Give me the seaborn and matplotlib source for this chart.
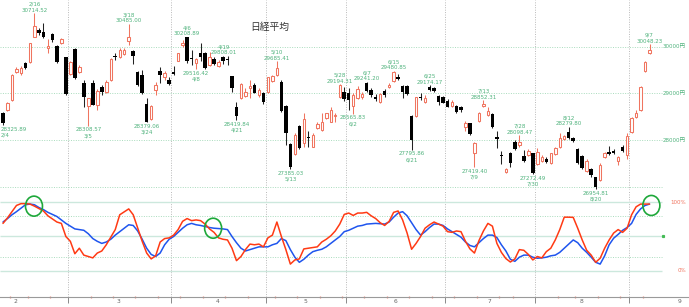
import numpy as np
import pandas as pd
import matplotlib
matplotlib.use("Agg")
import matplotlib.pyplot as plt
import seaborn as sns
from matplotlib import font_manager as fm
from matplotlib.patches import Ellipse
from matplotlib.transforms import blended_transform_factory

# ---------------- data ----------------
dates = ["2/4","2/5","2/8","2/9","2/10","2/12","2/15","2/16","2/17","2/18","2/19","2/22","2/24","2/25","2/26",
         "3/1","3/2","3/3","3/4","3/5","3/8","3/9","3/10","3/11","3/12","3/15","3/16","3/17","3/18","3/19",
         "3/22","3/23","3/24","3/25","3/26","3/29","3/30","3/31",
         "4/1","4/2","4/5","4/6","4/7","4/8","4/9","4/12","4/13","4/14","4/15","4/16","4/19","4/20","4/21",
         "4/22","4/23","4/26","4/27","4/28","4/30",
         "5/6","5/7","5/10","5/11","5/12","5/13","5/14","5/17","5/18","5/19","5/20","5/21","5/24","5/25",
         "5/26","5/27","5/28","5/31",
         "6/1","6/2","6/3","6/4","6/7","6/8","6/9","6/10","6/11","6/14","6/15","6/16","6/17","6/18","6/21",
         "6/22","6/23","6/24","6/25","6/28","6/29","6/30",
         "7/1","7/2","7/5","7/6","7/7","7/8","7/9","7/12","7/13","7/14","7/15","7/16","7/19","7/20","7/21",
         "7/26","7/27","7/28","7/29","7/30",
         "8/2","8/3","8/4","8/5","8/6","8/10","8/11","8/12","8/13","8/16","8/17","8/18","8/19","8/20","8/23",
         "8/24","8/25","8/26","8/27","8/30","8/31",
         "9/1","9/2","9/3","9/6","9/7"]

opens = [28572, 28643, 28857, 29450, 29429, 29643, 29664, 30214, 30357, 30307, 29964, 30264, 30014, 30071, 29772,
         29414, 29943, 29464, 29214, 28729, 29229, 28750, 29129, 29036, 29286, 29800, 29771, 29843, 30129, 29914,
         29464, 29393, 28772, 28443, 29071, 29479, 29343, 29286,
         29464, 29700, 30029, 30200, 29757, 29643, 29871, 29871, 29607, 29729, 29586, 29771, 29735, 29372, 28700,
         28893, 28950, 29107, 29179, 28964, 29014,
         29036, 29271, 29393, 29250, 28729, 27914, 27700, 28300, 27943, 28071, 27857, 28250, 28215, 28465,
         28393, 28515, 28915, 29036,
         29000, 28729, 28893, 28914, 29230, 29071, 28929, 28822, 29057, 29129, 29271, 29343, 29157, 29157, 28515,
         28515, 28914, 28822, 29143, 29121, 28943, 28914,
         28843, 28729, 28729, 28700, 28272, 28357, 27714, 28415, 28729, 28536, 28557, 28057, 27672, 27322, 27729,
         27965, 27893, 27657, 27679, 27715,
         27486, 27557, 27586, 27507, 27700, 27857, 28014, 28179, 28036, 27800, 27657, 27343, 27372, 27200, 27143,
         27629, 27750, 27772, 27557, 27850, 27679,
         28179, 28500, 28643, 29486, 29871]

highs = [28590, 28822, 29414, 29572, 29586, 29679, 30086, 30714.52, 30393, 30514, 30157, 30286, 30036, 30179, 29786,
         29700, 29964, 29607, 29286, 28900, 29286, 29086, 29179, 29286, 29750, 29857, 29964, 29979, 30485.00, 29929,
         29486, 29500, 28893, 28750, 29250, 29571, 29486, 29357,
         29586, 29871, 30143, 30208.89, 29929, 29750, 30071, 29893, 29893, 29771, 29714, 29800, 29808.01, 29380, 28822,
         29214, 29107, 29286, 29214, 29107, 29036,
         29357, 29393, 29685.41, 29286, 28750, 27929, 28143, 28322, 28572, 28193, 28143, 28393, 28572, 28586,
         28700, 28586, 29194.31, 29143,
         29107, 29000, 29157, 29036, 29241.20, 29107, 28986, 29000, 29086, 29214, 29480.85, 29414, 29179, 29179, 28536,
         28929, 29014, 28964, 29174.17, 29143, 28964, 28943,
         28872, 28857, 28750, 28729, 28415, 28372, 27965, 28607, 28852.31, 28700, 28586, 28200, 27765, 27393, 27750,
         28000, 28098.47, 27786, 27800, 27729,
         27822, 27679, 27629, 27729, 27857, 28143, 28107, 28279.80, 28071, 27822, 27679, 27586, 27393, 27214, 27500,
         27750, 27871, 27800, 27657, 27886, 28157,
         28486, 28643, 29157, 29700, 30048.23]

lows = [28325.89, 28629, 28843, 29429, 29393, 29522, 29657, 30200, 30250, 30179, 29857, 30107, 29660, 30057, 28960,
        29400, 29310, 29429, 28714, 28308.57, 28740, 28643, 28964, 29014, 29271, 29714, 29750, 29821, 30036, 29629,
        29157, 28990, 28379.06, 28429, 28964, 29214, 29286, 29179,
        29393, 29693, 29986, 29650, 29607, 29516.42, 29700, 29525, 29586, 29607, 29571, 29629, 29607, 29036, 28419.84,
        28872, 28914, 28893, 29000, 28929, 28772,
        29014, 29250, 29372, 28607, 27893, 27385.03, 27679, 27800, 27857, 27857, 27843, 28229, 28200, 28450,
        28379, 28393, 28893, 28843,
        28643, 28565.83, 28872, 28872, 29036, 28929, 28843, 28800, 28929, 29107, 29250, 29286, 28893, 28964, 27795.86,
        28500, 28857, 28800, 29057, 29036, 28750, 28786,
        28700, 28715, 28586, 28607, 28200, 28107, 27419.40, 28393, 28700, 28515, 28250, 27822, 27486, 27286, 27429,
        27786, 27857, 27536, 27657, 27272.49,
        27464, 27536, 27500, 27493, 27679, 27822, 28000, 28014, 27964, 27486, 27371, 27321, 27214, 26954.81, 27129,
        27614, 27679, 27700, 27471, 27750, 27586,
        28157, 28465, 28629, 29465, 29843]

closes = [28357, 28786, 29393, 29522, 29550, 29536, 30071, 30443, 30286, 30214, 30021, 30143, 29679, 30157, 28979,
          29679, 29321, 29572, 28929, 28893, 28750, 29057, 29036, 29250, 29729, 29771, 29929, 29929, 30200, 29800,
          29179, 29000, 28393, 28729, 29179, 29393, 29429, 29200,
          29414, 29857, 30086, 29700, 29729, 29729, 29771, 29536, 29771, 29629, 29679, 29700, 29715, 29107, 28515,
          29200, 29036, 29157, 29014, 29071, 28822,
          29343, 29372, 29536, 28629, 28143, 27429, 28107, 27822, 28443, 28050, 28107, 28343, 28393, 28572,
          28643, 28536, 29179, 28872,
          28857, 28964, 29086, 28986, 29057, 28964, 28872, 28979, 28964, 29179, 29464, 29300, 29036, 28986, 28000,
          28914, 28893, 28907, 29071, 29057, 28822, 28800,
          28715, 28822, 28607, 28643, 28372, 28129, 27943, 28586, 28772, 28629, 28272, 28014, 27657, 27372, 27515,
          27800, 27965, 27557, 27772, 27293,
          27750, 27629, 27536, 27715, 27822, 28036, 28086, 28036, 27986, 27500, 27393, 27557, 27250, 27000, 27465,
          27715, 27700, 27729, 27629, 27772, 28086,
          28465, 28572, 29143, 29679, 29929]

hi_dates = ["2/16", "3/18", "4/6", "4/19", "5/10", "5/28", "6/7", "6/15", "6/25", "7/13", "7/28", "8/12", "9/7"]
hi_vals = [30714.52, 30485.00, 30208.89, 29808.01, 29685.41, 29194.31, 29241.20, 29480.85, 29174.17,
           28852.31, 28098.47, 28279.80, 30048.23]
lo_dates = ["2/4", "3/5", "3/24", "4/8", "4/21", "5/13", "6/2", "6/21", "7/9", "7/30", "8/20"]
lo_vals = [28325.89, 28308.57, 28379.06, 29516.42, 28419.84, 27385.03, 28565.83, 27795.86, 27419.40,
           27272.49, 26954.81]

# stochastics (%K red, %D blue), by trading-day index
k_day = [0, 1, 3, 4, 5, 6, 7, 9, 10, 12, 13, 14, 15, 16, 17, 18, 20, 21, 22, 23, 25, 26, 28, 29] + list(range(30, 145))
k_val = [69, 77, 95, 97.6, 97.6, 97, 94, 87, 80, 71, 69, 50, 43, 25, 33, 23, 19, 26, 29, 38, 60, 81.5, 90, 81.5,
         62, 43, 26, 17.5, 22, 42, 47, 48, 52, 60, 72, 76, 73, 74, 73, 68, 61, 56, 48, 46,
         45, 33, 15, 21, 31, 39, 38, 39, 35, 48, 52, 71, 50, 31, 10, 16, 17.5, 32, 33, 34,
         35, 42, 46, 51, 58, 68, 82, 84, 80.5, 84, 84, 85, 80, 76, 70, 66, 72, 85, 87, 74,
         55, 31.5, 40, 50, 62, 67, 71, 68, 65, 57, 56, 58, 57, 43, 32, 26, 44, 58, 69, 65,
         40, 27, 18, 13, 17.5, 31, 30, 24, 16, 21, 19, 28, 33, 45, 60, 78, 78, 77.7, 62, 45,
         30, 23, 12.6, 18.5, 33, 45, 55, 60, 56, 62, 81.5, 93, 97, 97, 97]
d_day = list(range(0, 145))
d_val = [71, 76, 81.5, 86, 91, 96, 97, 96, 92, 89, 85, 82, 79, 74, 69, 65, 61, 60, 59, 54,
         47, 43, 40, 42, 46, 52, 57, 62, 67, 66, 58, 46, 33, 24, 21, 26, 38, 46, 50, 56,
         62, 67, 69, 67, 66, 64.5, 63, 62, 61.5, 61, 60, 50, 41, 33, 29, 31, 33, 35, 35, 35,
         38, 40, 47, 44, 31, 20, 12.6, 17, 23, 28, 30, 31.5, 35, 40, 45, 50, 57, 59, 62, 65,
         66, 68, 68.5, 69, 68.5, 68, 71, 78, 84, 86, 80, 70, 60, 52, 57, 63, 68, 68, 66, 61,
         57, 53, 49, 42, 37, 35, 41, 47, 52, 52, 48.5, 38, 29, 17, 14, 20, 23, 23, 20, 18.5,
         19, 20, 22, 23, 27, 33, 39, 45, 41, 33, 27, 20, 12.6, 10, 22, 38, 47.5, 53, 59, 63,
         69, 82, 90, 95, 97]

cross_day = [6.9, 46.8, 144.4]
cross_val = [94, 62, 95]

price_ticks = [30000, 29000, 28000]
osc_levels = [100, 80, 50, 20, 0]
month_names = ["2", "3", "4", "5", "6", "7", "8", "9"]

# ---------------- layout / style ----------------
W, H = 689, 307
X0, DX = 3.0, 4.49            # pixel of first bar, pixels per bar
TOP_PX, BOT_PX = 190, 297
PRICE_LIM = (26929, 31000.6)
OSC_LIM = (-37.7, 117.4)
month_label_px = [15, 118, 218, 305, 395, 490, 582, 680]
label_dx = {"4/19": -4, "7/28": -4}

RED = "#f07560"
KRED = "#ff3a14"
DBLUE = "#1f55ee"
GREEN_TXT = "#4fb27c"
GRID_G = "#a9dcbd"
SOLID_G = "#cce8dd"
VGRAY = "#b9b9b9"

sns.set_theme(style="white")
names = {f.name for f in fm.fontManager.ttflist}
NUMF = "Liberation Sans Narrow" if "Liberation Sans Narrow" in names else "DejaVu Sans"
NUMS = 5.2 if NUMF != "DejaVu Sans" else 4.0
plt.rcParams["font.family"] = [NUMF, "Noto Sans CJK JP", "DejaVu Sans"]

fig = plt.figure(figsize=(W / 100, H / 100), dpi=100)
fig.patch.set_facecolor("white")
ax1 = fig.add_axes([0, 1 - TOP_PX / H, 1, TOP_PX / H])
ax2 = fig.add_axes([0, 1 - BOT_PX / H, 1, (BOT_PX - TOP_PX) / H])
xlim = (-X0 / DX, (W - X0) / DX)
for ax in (ax1, ax2):
    ax.set_xlim(*xlim)
    ax.patch.set_alpha(0)
    for s in ax.spines.values():
        s.set_visible(False)
    ax.grid(False)
ax1.set_ylim(*PRICE_LIM)
ax2.set_ylim(*OSC_LIM)
ax1.set_xticks([]); ax1.set_yticks([])
ax2.set_yticks([])

idx = np.arange(len(dates))
o = np.array(opens, float); h = np.array(highs, float)
l = np.array(lows, float); c = np.array(closes, float)
dt = pd.to_datetime(["2021/" + d for d in dates], format="%Y/%m/%d")

# month boundaries and week boundaries
month_b = [i - 0.5 for i in range(1, len(dates)) if dt[i].month != dt[i - 1].month]
week_b = [i - 0.5 for i in range(1, len(dates))
          if dt[i].isocalendar()[1] != dt[i - 1].isocalendar()[1]]

grid_right = (662 - X0) / DX
for b in month_b:
    for ax in (ax1, ax2):
        ax.axvline(b, color=VGRAY, lw=0.7, ls=(0, (1, 1.5)), zorder=0)

for p in price_ticks + [27000]:
    ax1.hlines(p, xlim[0], grid_right, color=GRID_G, lw=0.7, ls=(0, (1, 1.5)), zorder=0)
for p in price_ticks:
    ax1.text((686 - X0) / DX, p, f"{p}円", ha="right", va="center", color=GREEN_TXT,
             fontsize=NUMS, family=[NUMF, "Noto Sans CJK JP"])

# candles
up = c >= o
body = np.abs(c - o)
mid = (c + o) / 2
body_h = np.maximum(body, 14)
bottom = mid - body_h / 2
ax1.vlines(idx[up], l[up], h[up], color=RED, lw=0.75, zorder=2)
ax1.vlines(idx[~up], l[~up], h[~up], color="#222222", lw=0.75, zorder=2)
ax1.bar(idx[up], body_h[up], bottom=bottom[up], width=0.55, facecolor="white",
        edgecolor=RED, linewidth=0.75, zorder=3)
ax1.bar(idx[~up], body_h[~up], bottom=bottom[~up], width=0.78, color="black",
        linewidth=0, zorder=3)


def put_label(i, v, dy_val, dy_date, d):
    dx = label_dx.get(d, 0)
    ha = "center"
    if i == 0:  # first bar sits at the left edge: keep its label inside the canvas
        ha, dx = "left", -X0 + 0.5
    for txt, dy in ((f"{v:.2f}", dy_val), (d, dy_date)):
        ax1.annotate(txt, (i, v), xytext=(dx, dy), textcoords="offset pixels",
                     ha=ha, va="center", fontsize=NUMS, color=GREEN_TXT, annotation_clip=False)


for d, v in zip(hi_dates, hi_vals):
    put_label(dates.index(d), v, 3.2, 9.0, d)
for d, v in zip(lo_dates, lo_vals):
    put_label(dates.index(d), v, -4.3, -10.0, d)

fig.text(269.5 / W, 1 - 27 / H, "日経平均", ha="center", va="center", fontsize=7,
         family=["Noto Sans CJK JP"], color="#333333")

# oscillator panel
for lv in osc_levels:
    if lv in (100, 50, 0):
        ax2.hlines(lv, xlim[0], grid_right, color=SOLID_G, lw=1.0, zorder=0)
    else:
        ax2.hlines(lv, xlim[0], grid_right, color=GRID_G, lw=0.7, ls=(0, (1, 1.5)), zorder=0)

osc = pd.DataFrame({"day": d_day, "val": d_val})
kdf = pd.DataFrame({"day": k_day, "val": k_val})
sns.lineplot(data=osc, x="day", y="val", ax=ax2, color=DBLUE, lw=1.1, sort=False,
             estimator=None, zorder=3)
sns.lineplot(data=kdf, x="day", y="val", ax=ax2, color=KRED, lw=1.1, sort=False,
             estimator=None, zorder=4)
ax2.set_xlabel(""); ax2.set_ylabel("")

ew = 17 / DX
eh = 20 / ((BOT_PX - TOP_PX) / (OSC_LIM[1] - OSC_LIM[0]))
for cx, cy in zip(cross_day, cross_val):
    ax2.add_patch(Ellipse((cx, cy), ew, eh, fill=False, edgecolor="#1ea83a", lw=1.2,
                          zorder=5, clip_on=False))

ax2.plot([(663 - X0) / DX], [50.7], "s", ms=1.3, color="#44bb55", clip_on=False)
ax2.text((686 - X0) / DX, 100, "100%", ha="right", va="center", color=RED, fontsize=NUMS)
ax2.text((686 - X0) / DX, 0, "0%", ha="right", va="center", color=RED, fontsize=NUMS)

# bottom axis
ax2.spines["bottom"].set_visible(True)
ax2.spines["bottom"].set_color("#9a9a9a")
ax2.spines["bottom"].set_linewidth(0.8)
ax2.set_xticks(month_b)
ax2.set_xticks(week_b, minor=True)
ax2.tick_params(axis="x", which="major", length=4.3, width=0.7, color="#8a8a8a",
                direction="out", labelbottom=False, bottom=True)
ax2.tick_params(axis="x", which="minor", length=1.5, width=0.9, color="#f08a7a",
                direction="inout", bottom=True)
tr = blended_transform_factory(ax2.transData, ax2.transAxes)
for name, px in zip(month_names, month_label_px):
    ax2.text((px - X0) / DX, -4.6 / (BOT_PX - TOP_PX), name, transform=tr, ha="center",
             va="center", fontsize=4.3, color="#666666", family="DejaVu Sans")

fig.savefig("out.png", dpi=100, facecolor="white")
